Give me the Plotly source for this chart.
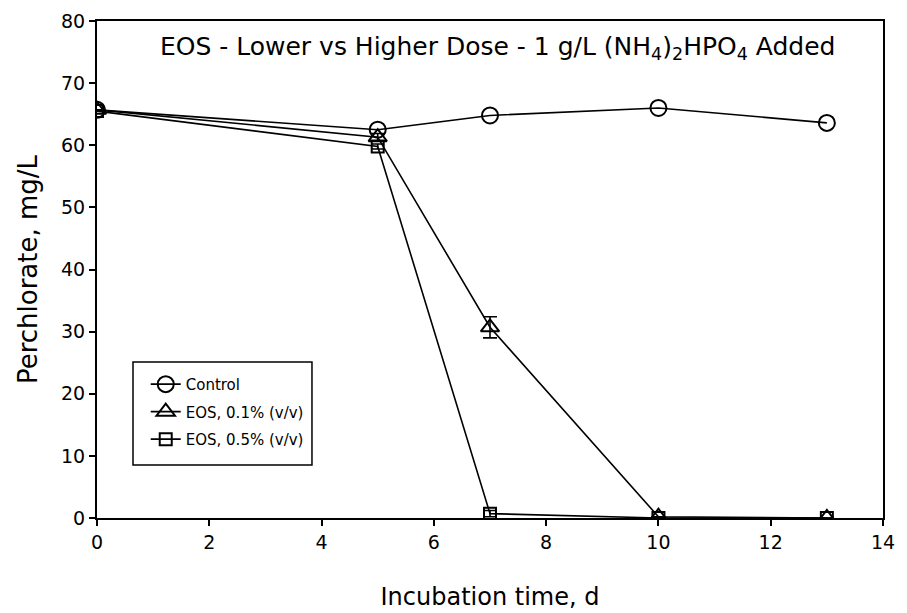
import plotly.graph_objects as go

days = [0, 5, 7, 10, 13]
control = [65.7, 62.5, 64.8, 66.0, 63.6]
eos_01 = [65.7, 61.3, 30.7, 0.2, 0.0]
eos_01_err = [0.0, 0.6, 1.7, 0.0, 0.0]
eos_05 = [65.5, 59.8, 0.7, 0.0, 0.0]
eos_05_err = [0.0, 0.4, 0.5, 0.0, 0.0]

FONT = "DejaVu Sans, Liberation Sans, Arial, sans-serif"

fig = go.Figure()
fig.add_trace(go.Scatter(
    x=days, y=control, name="Control", mode="lines+markers", legendgroup="a",
    line=dict(color="black", width=1.6),
    marker=dict(symbol="circle-open", size=16, color="black", line=dict(width=2)),
))
fig.add_trace(go.Scatter(
    x=days, y=eos_01, name="EOS, 0.1% (v/v)", mode="lines+markers", legendgroup="b",
    line=dict(color="black", width=1.6),
    marker=dict(symbol="triangle-up-open", size=16, color="black", line=dict(width=2)),
    error_y=dict(type="data", array=eos_01_err, color="black", thickness=1.6, width=7),
))
fig.add_trace(go.Scatter(
    x=days, y=eos_05, name="EOS, 0.5% (v/v)", mode="lines+markers", legendgroup="c",
    line=dict(color="black", width=1.6),
    marker=dict(symbol="square-open", size=12, color="black", line=dict(width=2)),
    error_y=dict(type="data", array=eos_05_err, color="black", thickness=1.6, width=6),
))

fig.update_layout(
    width=907, height=613,
    margin=dict(l=97, r=24, t=21, b=95),
    paper_bgcolor="white", plot_bgcolor="white",
    font=dict(family=FONT, color="black", size=19),
    showlegend=True,
    legend=dict(
        x=0.062, y=0.302, xanchor="left", yanchor="top",
        borderwidth=0, bgcolor="rgba(0,0,0,0)",
        font=dict(size=15, family=FONT),
        tracegroupgap=5, itemsizing="trace",
    ),
    shapes=[dict(
        type="rect", xref="paper", yref="paper",
        x0=0.0458, x1=0.2735, y0=0.1066, y1=0.3139,
        line=dict(color="black", width=1.5), fillcolor="rgba(0,0,0,0)", layer="above",
    )],
    annotations=[dict(
        text="EOS - Lower vs Higher Dose - 1 g/L (NH<sub>4</sub>)<sub>2</sub>HPO<sub>4</sub> Added",
        x=0.509, y=0.9457, xref="paper", yref="paper", xanchor="center", yanchor="middle",
        showarrow=False, font=dict(size=25, family=FONT),
    )],
)
fig.update_xaxes(
    range=[0, 14], tickvals=[0, 2, 4, 6, 8, 10, 12, 14],
    showgrid=False, zeroline=False, automargin=False,
    showline=True, linecolor="black", linewidth=2, mirror=True,
    ticks="outside", ticklen=6, tickwidth=1.5, tickcolor="black",
    tickfont=dict(size=19),
    title=dict(text="Incubation time, d", font=dict(size=24), standoff=36),
)
fig.update_yaxes(
    range=[0, 80], tickvals=[0, 10, 20, 30, 40, 50, 60, 70, 80],
    showgrid=False, zeroline=False, automargin=False,
    showline=True, linecolor="black", linewidth=2, mirror=True,
    ticks="outside", ticklen=6, tickwidth=1.5, tickcolor="black",
    tickfont=dict(size=19),
    title=dict(text="Perchlorate, mg/L", font=dict(size=26), standoff=16),
)

fig.write_html("out.html")
